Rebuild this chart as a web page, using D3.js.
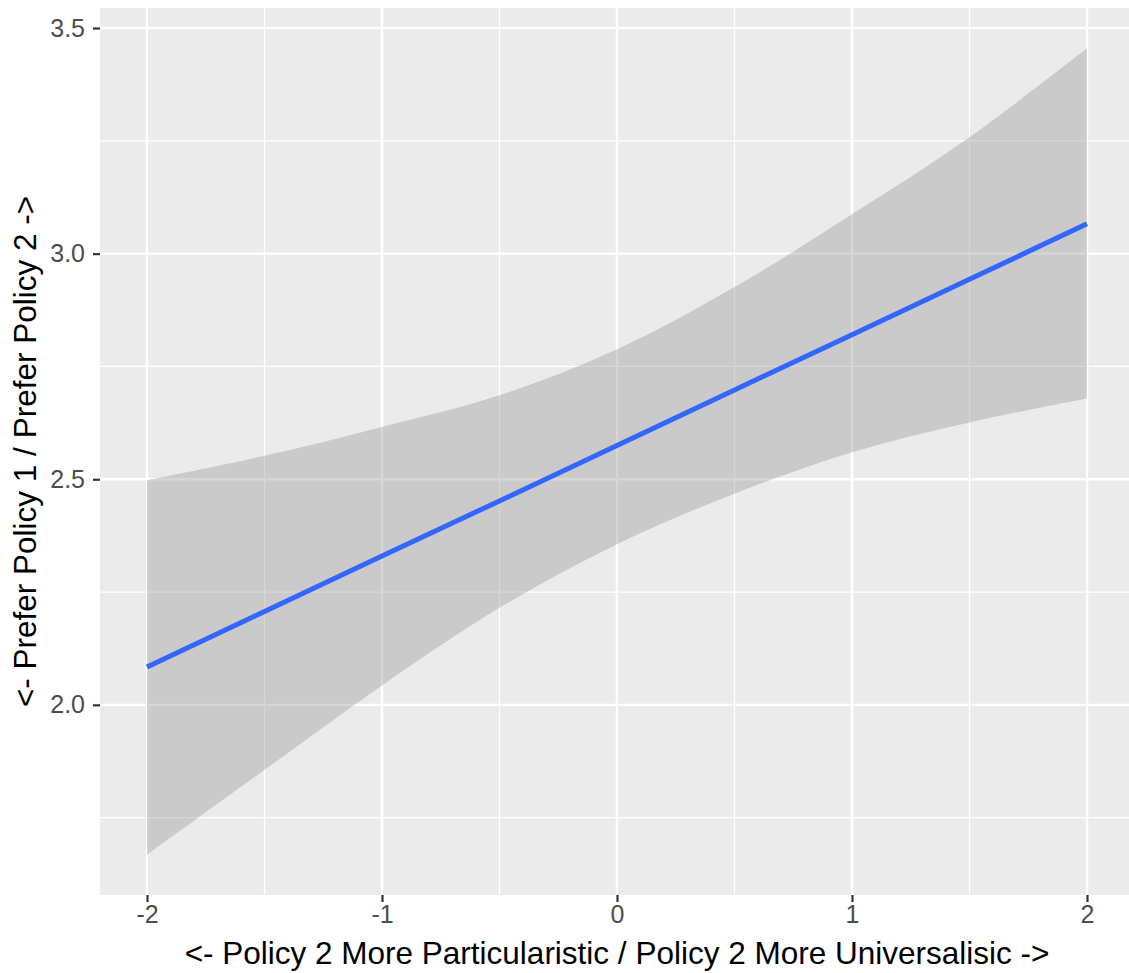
<!DOCTYPE html>
<html>
<head>
<meta charset="utf-8">
<script src="https://cdn.jsdelivr.net/npm/d3@7"></script>
<style>
  body { margin: 0; background: #fff; }
  text { font-family: "Liberation Sans", Arial, sans-serif; }
</style>
</head>
<body>
<div id="chart"></div>
<script>
var svgWidth = 1129;
var svgHeight = 973;

// panel edges in pixels
var margin = { top: 8, right: -5, bottom: 78, left: 100 };
var width = svgWidth - margin.left - margin.right;
var height = svgHeight - margin.top - margin.bottom;

// values
var xValues = [-2, -1.5, -1, -0.5, 0, 0.5, 1, 1.5, 2];
var fitValues = [2.084, 2.207, 2.330, 2.452, 2.575, 2.698, 2.820, 2.943, 3.066];
var upperValues = [2.498, 2.552, 2.616, 2.686, 2.788, 2.926, 3.087, 3.258, 3.455];
var lowerValues = [1.668, 1.856, 2.043, 2.215, 2.356, 2.468, 2.560, 2.626, 2.679];

var xTicks = [-2, -1, 0, 1, 2];
var xMinor = [-1.5, -0.5, 0.5, 1.5];
var yTicks = [2.0, 2.5, 3.0, 3.5];
var yMinor = [1.75, 2.25, 2.75, 3.25];

var xTitle = "<- Policy 2 More Particularistic / Policy 2 More Universalisic ->";
var yTitle = "<- Prefer Policy 1 / Prefer Policy 2 ->";

var svg = d3.select("#chart")
  .append("svg")
  .attr("width", svgWidth)
  .attr("height", svgHeight);

var chartGroup = svg.append("g")
  .attr("transform", `translate(${margin.left}, ${margin.top})`);

var rows = xValues.map(function(x, i) {
  return { x: x, fit: fitValues[i], upper: upperValues[i], lower: lowerValues[i] };
});

// ggplot style 5% expansion
var xMin = d3.min(xValues), xMax = d3.max(xValues);
var yMin = d3.min(lowerValues), yMax = d3.max(upperValues);
var xPad = (xMax - xMin) * 0.05, yPad = (yMax - yMin) * 0.05;

var xScale = d3.scaleLinear()
  .domain([xMin - xPad, xMax + xPad])
  .range([0, width]);

var yScale = d3.scaleLinear()
  .domain([yMin - yPad, yMax + yPad])
  .range([height, 0]);

// panel background
chartGroup.append("rect")
  .attr("width", width)
  .attr("height", height)
  .attr("fill", "#EBEBEB");

// grid lines
chartGroup.selectAll(".minorY").data(yMinor).join("line")
  .attr("x1", 0).attr("x2", width)
  .attr("y1", d => yScale(d)).attr("y2", d => yScale(d))
  .attr("stroke", "#fff").attr("stroke-width", 1.2);
chartGroup.selectAll(".minorX").data(xMinor).join("line")
  .attr("y1", 0).attr("y2", height)
  .attr("x1", d => xScale(d)).attr("x2", d => xScale(d))
  .attr("stroke", "#fff").attr("stroke-width", 1.2);
chartGroup.selectAll(".majorY").data(yTicks).join("line")
  .attr("x1", 0).attr("x2", width)
  .attr("y1", d => yScale(d)).attr("y2", d => yScale(d))
  .attr("stroke", "#fff").attr("stroke-width", 2.4);
chartGroup.selectAll(".majorX").data(xTicks).join("line")
  .attr("y1", 0).attr("y2", height)
  .attr("x1", d => xScale(d)).attr("x2", d => xScale(d))
  .attr("stroke", "#fff").attr("stroke-width", 2.4);

// confidence band
var band = d3.area()
  .x(d => xScale(d.x))
  .y0(d => yScale(d.lower))
  .y1(d => yScale(d.upper))
  .curve(d3.curveCatmullRom.alpha(0.5));

chartGroup.append("path")
  .datum(rows)
  .attr("d", band)
  .attr("fill", "#999999")
  .attr("fill-opacity", 0.4);

// fitted line
var fitLine = d3.line()
  .x(d => xScale(d.x))
  .y(d => yScale(d.fit));

chartGroup.append("path")
  .datum(rows)
  .attr("d", fitLine)
  .attr("fill", "none")
  .attr("stroke", "#3366FF")
  .attr("stroke-width", 5);

// axes
var bottomAxis = d3.axisBottom(xScale)
  .tickValues(xTicks)
  .tickFormat(d => String(d))
  .tickSize(7)
  .tickPadding(3);
var leftAxis = d3.axisLeft(yScale)
  .tickValues(yTicks)
  .tickFormat(d => d.toFixed(1))
  .tickSize(7)
  .tickPadding(8);

var xAxisG = chartGroup.append("g")
  .attr("transform", `translate(0, ${height})`)
  .call(bottomAxis);
var yAxisG = chartGroup.append("g")
  .call(leftAxis);

[xAxisG, yAxisG].forEach(function(g) {
  g.select(".domain").remove();
  g.selectAll(".tick line").attr("stroke", "#333333").attr("stroke-width", 2.2);
  g.selectAll(".tick text")
    .attr("fill", "#4D4D4D")
    .style("font-size", "25px")
    .style("font-family", "'Liberation Sans', Arial, sans-serif");
});

// axis titles
svg.append("text")
  .attr("x", margin.left + (xScale(xMin) + xScale(xMax)) / 2)
  .attr("y", 964)
  .attr("text-anchor", "middle")
  .attr("fill", "#000")
  .style("font-size", "31.5px")
  .text(xTitle);

svg.append("text")
  .attr("transform", `translate(36, ${margin.top + height / 2}) rotate(-90)`)
  .attr("text-anchor", "middle")
  .attr("fill", "#000")
  .style("font-size", "31.5px")
  .text(yTitle);
</script>
</body>
</html>
